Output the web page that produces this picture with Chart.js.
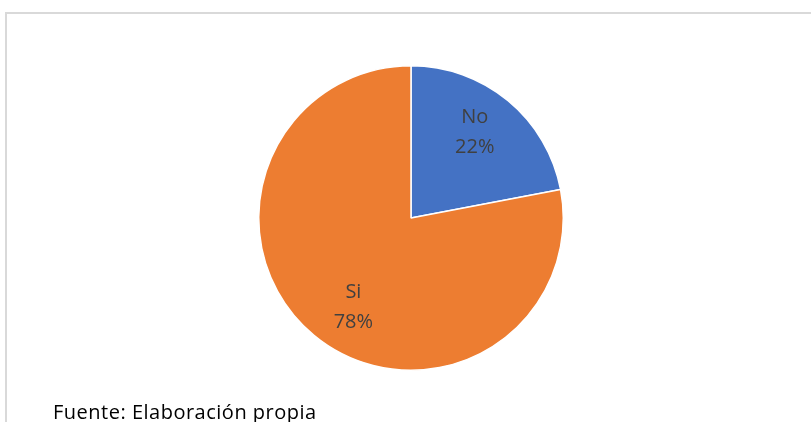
<!DOCTYPE html>
<html>
<head>
<meta charset="utf-8">
<script src="https://cdn.jsdelivr.net/npm/chart.js@4.4.1/dist/chart.umd.min.js"></script>
<style>
  body { margin: 0; background: #fff; }
  #wrap { position: relative; width: 811px; height: 422px; overflow: hidden; }
  #frame { position: absolute; left: 5px; top: 12px; width: 806px; height: 420px;
           border-top: 2px solid #d9d9d9; border-left: 2px solid #d9d9d9; }
  canvas { position: absolute; left: 0; top: 0; }
  #fuente { position: absolute; left: 53px; top: 398px; font-family: "Open Sans", sans-serif;
            font-size: 20px; letter-spacing: 0.5px; color: #000; white-space: nowrap; }
</style>
</head>
<body>
<div id="wrap">
  <div id="frame"></div>
  <canvas id="pie" width="811" height="422"></canvas>
  <div id="fuente">Fuente: Elaboración propia</div>
</div>
<script>
"use strict"

const labels = ["No", "Si"];
const values = [22, 78];
const colors = ["#4472C4", "#ED7D31"];
// small angle nudge (radians) for each label, like the original
const labelNudge = [-0.05, -0.12];

// labels inside the slices: category + percent
const sliceLabels = {
  id: "sliceLabels",
  afterDatasetsDraw(chart) {
    const ctx = chart.ctx;
    const meta = chart.getDatasetMeta(0);
    const total = values.reduce((a, b) => a + b, 0);
    ctx.save();
    ctx.font = "20px 'Open Sans', sans-serif";
    ctx.fillStyle = "#404040";
    ctx.textAlign = "center";
    ctx.textBaseline = "middle";
    meta.data.forEach((arc, i) => {
      const mid = (arc.startAngle + arc.endAngle) / 2 + labelNudge[i];
      const r = arc.outerRadius * 0.7;
      const x = arc.x + Math.cos(mid) * r;
      const y = arc.y + Math.sin(mid) * r;
      ctx.fillText(labels[i], x, y - 15);
      ctx.fillText(Math.round(values[i] / total * 100) + "%", x, y + 15);
    });
    ctx.restore();
  }
};

new Chart(document.querySelector("#pie"), {
  type: "pie",
  data: {
    labels: labels,
    datasets: [
      {
        data: values,
        backgroundColor: colors,
        borderColor: "#ffffff",
        borderWidth: 1.5,
      },
    ],
  },
  options: {
    responsive: false,
    animation: false,
    layout: { padding: { top: 65, bottom: 51, left: 11, right: 0 } },
    plugins: {
      legend: { display: false },
      tooltip: { enabled: false },
    },
  },
  plugins: [sliceLabels],
});
</script>
</body>
</html>
